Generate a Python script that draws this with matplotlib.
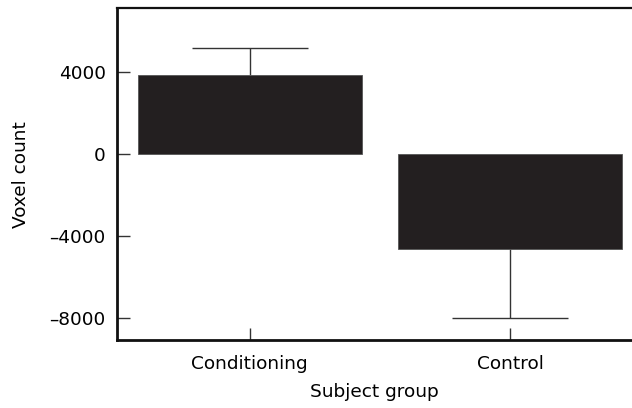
import matplotlib
matplotlib.use("Agg")
import matplotlib.pyplot as plt
import numpy as np

categories = ["Conditioning", "Control"]
values = [3850, -4650]
err_lower = [0, 3350]
err_upper = [1320, 0]
yticks = [-8000, -4000, 0, 4000]
ytick_labels = ["\u20138000", "\u20134000", "0", "4000"]

plt.rcParams['font.family'] = ['DejaVu Sans']

fig = plt.figure(figsize=(6.32, 4.08), dpi=100)
ax = fig.add_axes([0.185, 0.1667, 0.815, 0.8133])

x = np.arange(len(categories))
ax.bar(x, values, width=0.86, color="#231f20", edgecolor="#555555", linewidth=0.6, zorder=2)
for i in range(len(categories)):
    _, caps, _ = ax.errorbar(x[i], values[i], yerr=[[err_lower[i]], [err_upper[i]]], fmt="none",
                             ecolor="#333333", elinewidth=1.0, capsize=41.8, capthick=1.0, zorder=1)
    for c in caps:
        if np.allclose(c.get_ydata(), values[i]):
            c.remove()

fs = 13.3
ax.set_xlim(-0.51, 1.468)
ax.set_ylim(-9070, 7120)
ax.set_xticks(x)
ax.set_xticklabels(categories, fontsize=fs)
ax.set_yticks(yticks)
ax.set_yticklabels(ytick_labels, fontsize=fs)
ax.tick_params(direction="in", length=9, width=1.0, color="#333333")
ax.tick_params(axis="y", pad=8)
ax.tick_params(axis="x", pad=10.5)

ax.set_xlabel("Subject group", fontsize=fs, labelpad=7.5)
ax.set_ylabel("Voxel count", fontsize=fs, labelpad=14)

ax.spines["right"].set_visible(False)
ax.spines["left"].set_linewidth(2.0)
ax.spines["bottom"].set_linewidth(2.0)
ax.spines["top"].set_linewidth(1.6)
for s in ["left", "bottom", "top"]:
    ax.spines[s].set_color("#111111")

fig.savefig("out.png", dpi=100)
